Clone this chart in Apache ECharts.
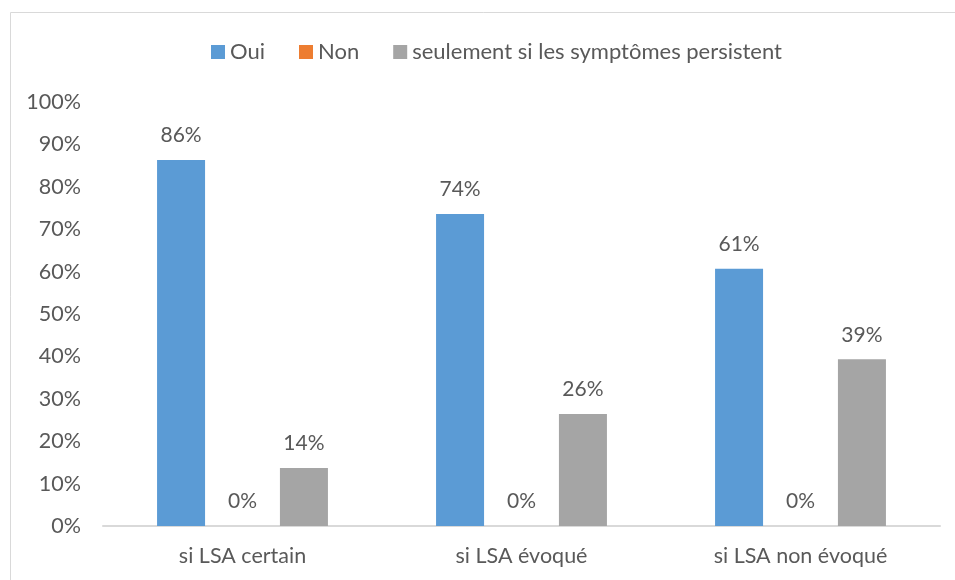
<!DOCTYPE html>
<html>
<head>
<meta charset="utf-8">
<script src="https://cdn.jsdelivr.net/npm/echarts@6/dist/echarts.min.js"></script>
<style>
  html, body { margin: 0; padding: 0; background: #fff; }
  #chart { width: 955px; height: 580px; }
</style>
</head>
<body>
<div id="chart"></div>
<script>
const categories = ['si LSA certain', 'si LSA évoqué', 'si LSA non évoqué'];
const seriesNames = ['Oui', 'Non', 'seulement si les symptômes persistent'];
const oui = [86.3, 73.6, 60.7];
const non = [0, 0, 0];
const persist = [13.7, 26.4, 39.3];
const yTicks = [0, 10, 20, 30, 40, 50, 60, 70, 80, 90, 100];

const colors = ['#5B9BD5', '#ED7D31', '#A5A5A5'];
const font = 'Lato, "Open Sans", sans-serif';
const textColor = '#595959';

const chart = echarts.init(document.getElementById('chart'));

function barSeries(name, data, color) {
  return {
    name: name,
    type: 'bar',
    data: data,
    barWidth: 48,
    barGap: '28%',
    itemStyle: { color: color },
    label: {
      show: true,
      position: 'top',
      distance: 14,
      color: textColor,
      fontFamily: font,
      fontSize: 21,
      formatter: p => Math.round(p.value) + '%'
    }
  };
}

const option = {
  animation: false,
  color: colors,
  graphic: [{
    type: 'rect',
    shape: { x: 10.5, y: 12.5, width: 1000, height: 1000 },
    style: { fill: 'none', stroke: '#d9d9d9', lineWidth: 1 },
    silent: true,
    z: -1
  }],
  legend: {
    top: 36,
    left: 206,
    itemWidth: 14,
    itemHeight: 14,
    itemGap: 34,
    icon: 'rect',
    data: seriesNames,
    textStyle: { color: textColor, fontFamily: font, fontSize: 22 }
  },
  grid: { left: 103, right: 15, top: 102, bottom: 54, containLabel: false },
  xAxis: {
    type: 'category',
    data: categories,
    axisLine: { lineStyle: { color: '#d9d9d9', width: 2 } },
    axisTick: { show: false },
    axisLabel: { color: textColor, fontFamily: font, fontSize: 21.5, margin: 19 }
  },
  yAxis: {
    type: 'value',
    min: yTicks[0],
    max: yTicks[yTicks.length - 1],
    interval: 10,
    splitLine: { show: false },
    axisLine: { show: false },
    axisTick: { show: false },
    axisLabel: {
      color: textColor, fontFamily: font, fontSize: 21.5, margin: 22,
      formatter: v => v + '%'
    }
  },
  series: [
    barSeries(seriesNames[0], oui, colors[0]),
    barSeries(seriesNames[1], non, colors[1]),
    barSeries(seriesNames[2], persist, colors[2])
  ]
};

chart.setOption(option);
</script>
</body>
</html>
